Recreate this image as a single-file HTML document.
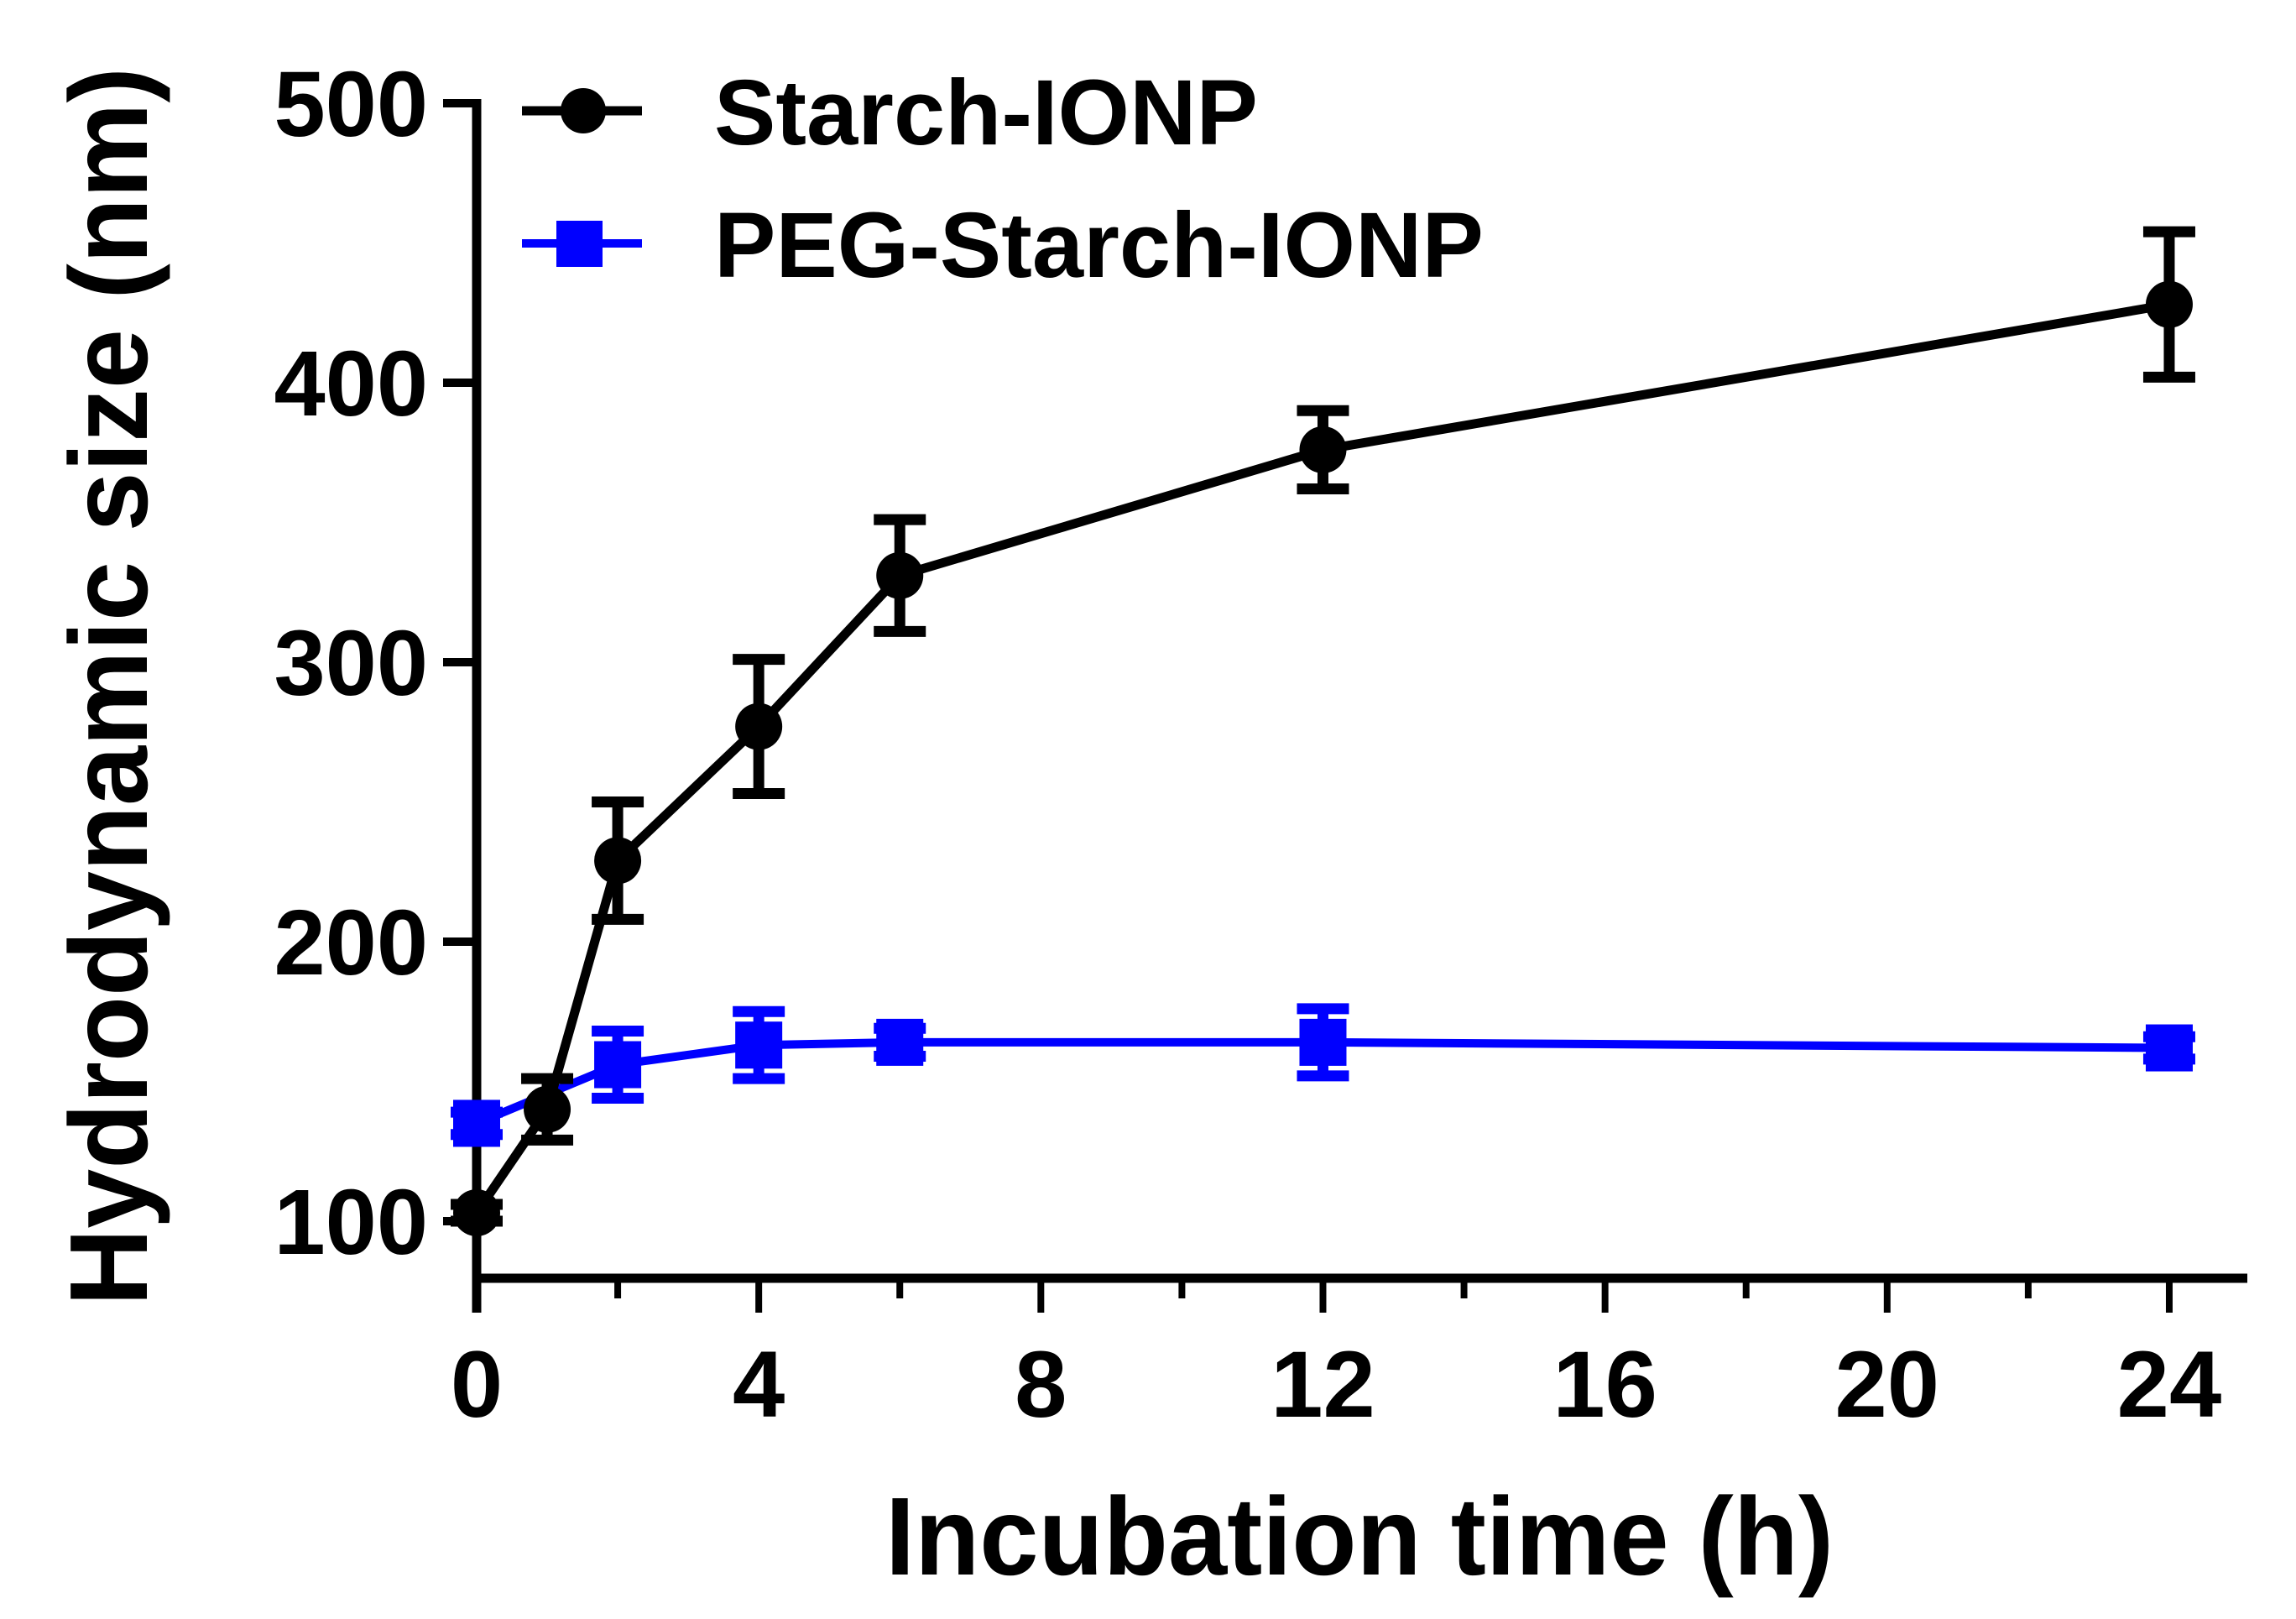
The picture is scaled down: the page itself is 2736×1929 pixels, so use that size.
<!DOCTYPE html>
<html><head><meta charset="utf-8"><style>
html,body{margin:0;padding:0;background:#fff;}
svg{display:block;}
text{font-family:"Liberation Sans",Arial,sans-serif;font-weight:bold;fill:#000;}
</style></head>
<body>
<svg id="chart" width="2736" height="1929" viewBox="0 0 2736 1929" xmlns="http://www.w3.org/2000/svg">
<g id="axes"></g>
<g id="series"></g>
<g id="legend">
  <line x1="622" y1="132" x2="765" y2="132" stroke="#000" stroke-width="11"/>
  <circle cx="695" cy="132" r="27" fill="#000"/>
  <text x="851" y="172" font-size="110">Starch-IONP</text>
  <line x1="622" y1="290" x2="765" y2="290" stroke="#0000ff" stroke-width="10"/>
  <rect x="663" y="263" width="55" height="55" fill="#0000ff"/>
  <text x="851" y="330" font-size="110">PEG-Starch-IONP</text>
</g>
<text x="1620" y="1876" font-size="132" text-anchor="middle" textLength="1130" lengthAdjust="spacingAndGlyphs">Incubation time (h)</text>
<text transform="translate(175,818) rotate(-90)" font-size="132" text-anchor="middle" textLength="1476" lengthAdjust="spacingAndGlyphs">Hydrodynamic size (nm)</text>
</svg>
<script>
const timesH = [0, 1, 2, 4, 6, 12, 24];
const starchMean = [103, 140, 229, 277, 331, 376, 428];
const starchErr = [3, 11, 21, 24, 20, 14, 26];
const pegTimes = [0, 2, 4, 6, 12, 24];
const pegMean = [135, 156, 163, 164, 164, 162];
const pegErr = [4, 12, 12, 5, 12, 4];
const yTicks = [100, 200, 300, 400, 500];
const xTicks = [0, 4, 8, 12, 16, 20, 24];
const xMinorTicks = [2, 6, 10, 14, 18, 22];

const NS = "http://www.w3.org/2000/svg";
const X0 = 568, XPH = 84.04;
const Y100 = 1455, YPU = 3.33;
function xs(h){ return X0 + h * XPH; }
function ys(v){ return Y100 - (v - 100) * YPU; }
function mk(tag, attrs, parent){
  const e = document.createElementNS(NS, tag);
  for (const k in attrs) e.setAttribute(k, attrs[k]);
  parent.appendChild(e);
  return e;
}
const axes = document.getElementById('axes');
const series = document.getElementById('series');

let yl = mk('line', {x1: X0, y1: ys(500) - 5, x2: X0, y2: 1564, stroke: '#000', 'stroke-width': 11}, axes);


let xl = mk('line', {x1: X0 - 5, y1: 1523, x2: 2678, y2: 1523, stroke: '#000', 'stroke-width': 11}, axes);



yTicks.forEach(v => {
  const t = mk('line', {x1: X0 - 40, y1: ys(v), x2: X0, y2: ys(v), stroke: '#000', 'stroke-width': 10}, axes);
  
  
  const l = mk('text', {x: 510, y: ys(v) + 39, 'font-size': 110, 'text-anchor': 'end'}, axes);
  l.textContent = v;
  
  
});
xTicks.forEach(h => {
  const t = mk('line', {x1: xs(h), y1: 1523, x2: xs(h), y2: 1564, stroke: '#000', 'stroke-width': 8}, axes);
  
  
  const l = mk('text', {x: xs(h), y: 1688, 'font-size': 112, 'text-anchor': 'middle'}, axes);
  l.textContent = h;
  
  
});
xMinorTicks.forEach(h => {
  const t = mk('line', {x1: xs(h), y1: 1523, x2: xs(h), y2: 1547, stroke: '#000', 'stroke-width': 8}, axes);
  
  
});

function drawSeries(times, means, errs, color, lw, marker, name){
  const g = mk('g', {}, series);
  
  
  const pts = times.map((h, i) => xs(h) + ',' + ys(means[i])).join(' ');
  const pl = mk('polyline', {points: pts, fill: 'none', stroke: color, 'stroke-width': lw, 'stroke-linejoin': 'round'}, g);
  
  
  times.forEach((h, i) => {
    const x = xs(h), yt = ys(means[i] + errs[i]), yb = ys(means[i] - errs[i]);
    const e = mk('path', {d: `M${x},${yt}V${yb}M${x-31},${yt}H${x+31}M${x-31},${yb}H${x+31}`, stroke: color, 'stroke-width': 13, fill: 'none'}, g);
    
    
    let m;
    if (marker === 'circle') {
      m = mk('circle', {cx: x, cy: ys(means[i]), r: 28, fill: color}, g);
    } else {
      m = mk('rect', {x: x - 28, y: ys(means[i]) - 28, width: 56, height: 56, fill: color}, g);
    }
    
    
  });
}
drawSeries(pegTimes, pegMean, pegErr, '#0000ff', 10, 'square', 'peg-starch-ionp');
drawSeries(timesH, starchMean, starchErr, '#000000', 11, 'circle', 'starch-ionp');
</script>
</body></html>
